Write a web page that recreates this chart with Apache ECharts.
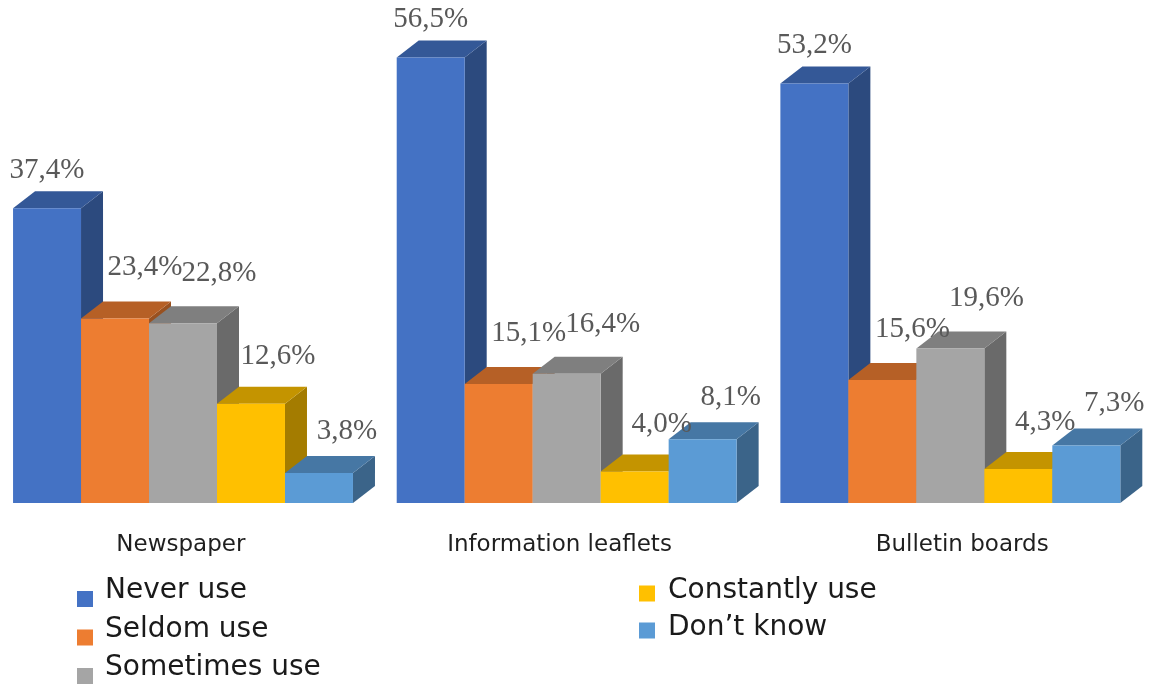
<!DOCTYPE html>
<html>
<head>
<meta charset="utf-8">
<script src="https://cdn.jsdelivr.net/npm/echarts@6/dist/echarts.min.js"></script>
<style>
  html, body { margin: 0; padding: 0; background: #ffffff; }
  #chart { width: 1153px; height: 684px; }
</style>
</head>
<body>
<div id="chart"></div>
<script>
// Media usage by channel (percent of respondents)
const categories = ['Newspaper', 'Information leaflets', 'Bulletin boards'];
const seriesNames = ['Never use', 'Seldom use', 'Sometimes use', 'Constantly use', 'Don’t know'];
const neverUse = [37.4, 56.5, 53.2];
const seldomUse = [23.4, 15.1, 15.6];
const sometimesUse = [22.8, 16.4, 19.6];
const constantlyUse = [12.6, 4.0, 4.3];
const dontKnow = [3.8, 8.1, 7.3];
const seriesValues = [neverUse, seldomUse, sometimesUse, constantlyUse, dontKnow];

// Styling
const colors = ['#4472C4', '#ED7D31', '#A5A5A5', '#FFC000', '#5B9BD5'];
// value-label nudge per series: [x from front-face centre, baseline from back edge of top face]
const labelNudge = [[0, -11], [30, -24], [36, -23], [27, -20], [28, -15]];
// shift of each category caption from the category centre
const captionShift = [-11, -16, 3];
const DEPTH_X = 22, DEPTH_Y = 17;          // oblique depth of the 3D boxes
const BAR_RATIO = 0.1772;                   // bar width as share of a category band
const GROUP_OFFSET = 0.466;                 // first bar's left edge from band centre
const SANS = '"DejaVu Sans", sans-serif';

// legend swatches: 16px square, sitting low and a little away from the text
const swatchLeft = 'path://M23,0L23,0ZM0,16L16,16L16,32L0,32Z';
const swatchRight = 'path://M24,0L24,0ZM0,5L16,5L16,21L0,21Z';

function shade(hex, f) {
  const n = parseInt(hex.slice(1), 16);
  const r = Math.round(((n >> 16) & 255) * f);
  const g = Math.round(((n >> 8) & 255) * f);
  const b = Math.round((n & 255) * f);
  return 'rgb(' + r + ',' + g + ',' + b + ')';
}

function fmt(v) {
  return v.toFixed(1).replace('.', ',') + '%';
}

function renderBox(params, api) {
  const s = params.seriesIndex;
  const cat = api.value(0);
  const val = api.value(1);
  const topPt = api.coord([cat, val]);
  const basePt = api.coord([cat, 0]);
  const band = api.size([1, 0])[0];
  const w = band * BAR_RATIO;
  const x0 = basePt[0] - band * GROUP_OFFSET + s * w;
  const x1 = x0 + w;
  const yT = topPt[1];
  const yB = basePt[1];
  const c = colors[s];
  return {
    type: 'group',
    children: [
      { // right side face
        type: 'polygon',
        shape: { points: [[x1, yT], [x1 + DEPTH_X, yT - DEPTH_Y], [x1 + DEPTH_X, yB - DEPTH_Y], [x1, yB]] },
        style: { fill: shade(c, 0.645) }
      },
      { // top face
        type: 'polygon',
        shape: { points: [[x0, yT], [x0 + DEPTH_X, yT - DEPTH_Y], [x1 + DEPTH_X, yT - DEPTH_Y], [x1, yT]] },
        style: { fill: shade(c, 0.77) }
      },
      { // front face
        type: 'rect',
        shape: { x: x0, y: yT, width: w, height: yB - yT },
        style: { fill: c }
      },
      { // value label
        type: 'text',
        z2: 100,
        x: x0 + w / 2 + labelNudge[s][0],
        y: yT - DEPTH_Y + labelNudge[s][1] - 9.8,
        style: {
          text: fmt(val),
          fill: '#595959',
          fontSize: 29,
          fontFamily: '"Liberation Serif", "Times New Roman", serif',
          align: 'center',
          verticalAlign: 'middle'
        }
      }
    ]
  };
}

const legendText = {
  fontFamily: SANS,
  fontSize: 28,
  color: '#1a1a1a',
  lineHeight: 30
};

function captionStyle(shift) {
  return {
    fontFamily: SANS,
    fontSize: 23,
    color: '#1f1f1f',
    padding: shift < 0 ? [0, -2 * shift, 0, 0] : [0, 0, 0, 2 * shift]
  };
}

const chart = echarts.init(document.getElementById('chart'), null, { renderer: 'canvas' });
chart.setOption({
  animation: false,
  backgroundColor: '#ffffff',
  grid: { left: 0, right: 2, top: 30, bottom: 181, containLabel: false, outerBoundsMode: 'none' },
  xAxis: {
    type: 'category',
    data: categories,
    axisLine: { show: false },
    axisTick: { show: false },
    splitLine: { show: false },
    axisLabel: {
      margin: 31,
      interval: 0,
      formatter: function (val, idx) { return '{c' + idx + '|' + val + '}'; },
      rich: {
        c0: captionStyle(captionShift[0]),
        c1: captionStyle(captionShift[1]),
        c2: captionStyle(captionShift[2])
      }
    }
  },
  yAxis: {
    type: 'value',
    min: 0,
    max: 60,
    show: false,
    splitLine: { show: false }
  },
  legend: [
    {
      data: seriesNames.slice(0, 3),
      orient: 'vertical',
      left: 77,
      top: 575,
      height: 200,
      padding: 0,
      icon: swatchLeft,
      itemWidth: 23,
      itemHeight: 32,
      itemGap: 6.5,
      selectedMode: false,
      textStyle: legendText
    },
    {
      data: seriesNames.slice(3),
      orient: 'vertical',
      left: 639,
      top: 576,
      height: 200,
      padding: 0,
      icon: swatchRight,
      itemWidth: 24,
      itemHeight: 21,
      itemGap: 7,
      selectedMode: false,
      textStyle: legendText
    }
  ],
  series: seriesNames.map(function (name, i) {
    return {
      type: 'custom',
      name: name,
      renderItem: renderBox,
      itemStyle: { color: colors[i] },
      encode: { x: 0, y: 1 },
      data: seriesValues[i].map(function (v, j) { return [j, v]; })
    };
  })
});
</script>
</body>
</html>
